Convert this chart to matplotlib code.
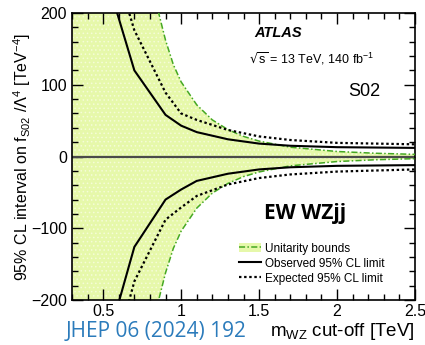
import matplotlib
matplotlib.use("Agg")
import matplotlib.pyplot as plt
from matplotlib.patches import Patch
from matplotlib.lines import Line2D
from matplotlib.ticker import MultipleLocator

plt.rcParams['font.family'] = ['Liberation Sans', 'DejaVu Sans']
plt.rcParams['hatch.linewidth'] = 0.6

# Limits on f_S02 / Lambda^4 versus m_WZ cut-off
cutoff = [0.5, 0.7, 0.9, 1.0, 1.1, 1.3, 1.5, 1.7, 2.0, 2.5]
obs_up = [265, 120, 58, 43, 34, 24, 18, 15, 13, 12]
obs_dn = [-280, -126, -60, -46, -34, -24, -18, -15, -13, -12]
exp_up = [320, 176, 89, 60, 51, 37, 28, 23, 19, 17]
exp_dn = [-335, -174, -88, -71, -55, -39, -30, -25, -21, -18]

# Unitarity bound
unit_x = [0.3, 0.4, 0.5, 0.6, 0.7, 0.75, 0.8, 0.85, 0.9, 0.95, 1.0, 1.1, 1.2,
          1.3, 1.4, 1.5, 1.7, 2.0, 2.25, 2.5]
unit_up = [13000, 4200, 1700, 830, 450, 340, 262, 205, 162, 128, 104, 72, 51,
           37.5, 28, 21.5, 13, 7, 4.5, 3]
unit_dn = [-v for v in unit_up]

fill_col = '#e6f8aa'
dot_col = '#f5fcd8'
green = '#45a823'
unit_ls = (0, (4, 1.5, 1, 1.5))
exp_ls = (0, (1.1, 1.2))

fig = plt.figure(figsize=(4.25, 3.45), dpi=100)
ax = fig.add_axes([0.1694, 0.1304, 0.8071, 0.8319])

ax.fill_between(unit_x, unit_dn, unit_up, facecolor=fill_col, edgecolor=dot_col,
                hatch='....', linewidth=0, zorder=1)
ax.plot(unit_x, unit_up, color=green, lw=1.1, ls=unit_ls, zorder=3)
ax.plot(unit_x, unit_dn, color=green, lw=1.1, ls=unit_ls, zorder=3)
ax.axhline(0, color='#4a4a4a', lw=1.6, zorder=2)

ax.plot(cutoff, obs_up, color='black', lw=1.5, zorder=4)
ax.plot(cutoff, obs_dn, color='black', lw=1.5, zorder=4)
ax.plot(cutoff, exp_up, color='black', lw=1.6, ls=exp_ls, zorder=4)
ax.plot(cutoff, exp_dn, color='black', lw=1.6, ls=exp_ls, zorder=4)

ax.set_xlim(0.3, 2.5)
ax.set_ylim(-200, 200)
ax.set_xticks([0.5, 1, 1.5, 2, 2.5])
ax.set_xticklabels(['0.5', '1', '1.5', '2', '2.5'])
ax.set_yticks([-200, -100, 0, 100, 200])
ax.set_yticklabels(['\u2212200', '\u2212100', '0', '100', '200'])
ax.xaxis.set_minor_locator(MultipleLocator(0.1))
ax.yaxis.set_minor_locator(MultipleLocator(20))
ax.tick_params(which='both', direction='in', top=True, right=True,
               labelsize=11.5, width=1.0)
ax.tick_params(which='major', length=8)
ax.tick_params(which='minor', length=4)
ax.tick_params(axis='x', pad=3)
for s in ax.spines.values():
    s.set_linewidth(1.2)

ax.set_ylabel(r'95% CL interval on f$_{\mathregular{S02}}$ /$\Lambda^{\mathregular{4}}$ [TeV$^{\mathregular{-4}}$]',
              fontsize=11.5)
ax.yaxis.set_label_coords(-0.115, 0.5)

ax.text(0.60, 0.930, 'ATLAS', transform=ax.transAxes, ha='center', va='center',
        fontsize=10.5, fontweight='bold', fontstyle='italic')
ax.text(0.70, 0.840, r'$\sqrt{\mathregular{s}}$ = 13 TeV, 140 fb$^{\mathregular{-1}}$',
        transform=ax.transAxes, ha='center', va='center', fontsize=9)
ax.text(0.851, 0.725, 'S02', transform=ax.transAxes, ha='center', va='center',
        fontsize=13)
ax.text(0.68, 0.300, 'EW WZjj', transform=ax.transAxes, ha='center', va='center',
        fontsize=15, fontweight='bold', family=['Open Sans', 'DejaVu Sans'])

h_unit = (Patch(facecolor=fill_col, edgecolor='none'),
          Line2D([], [], color=green, lw=1.1, ls=unit_ls))
h_obs = Line2D([], [], color='black', lw=1.5)
h_exp = Line2D([], [], color='black', lw=1.6, ls=exp_ls)
ax.legend([h_unit, h_obs, h_exp],
          ['Unitarity bounds', 'Observed 95% CL limit', 'Expected 95% CL limit'],
          loc='upper left', bbox_to_anchor=(0.488, 0.200), frameon=False,
          fontsize=8.5, handlelength=1.8, handletextpad=0.4, labelspacing=0.25,
          borderpad=0, borderaxespad=0)

fig.text(0.976, 0.040, r'm$_{\mathregular{WZ}}$ cut-off [TeV]', ha='right', va='center',
         fontsize=13.5)
fig.text(0.155, 0.040, 'JHEP 06 (2024) 192', ha='left', va='center',
         fontsize=15, color='#2b7bbb', family=['Open Sans', 'DejaVu Sans'])

fig.savefig('out.png', dpi=100)
